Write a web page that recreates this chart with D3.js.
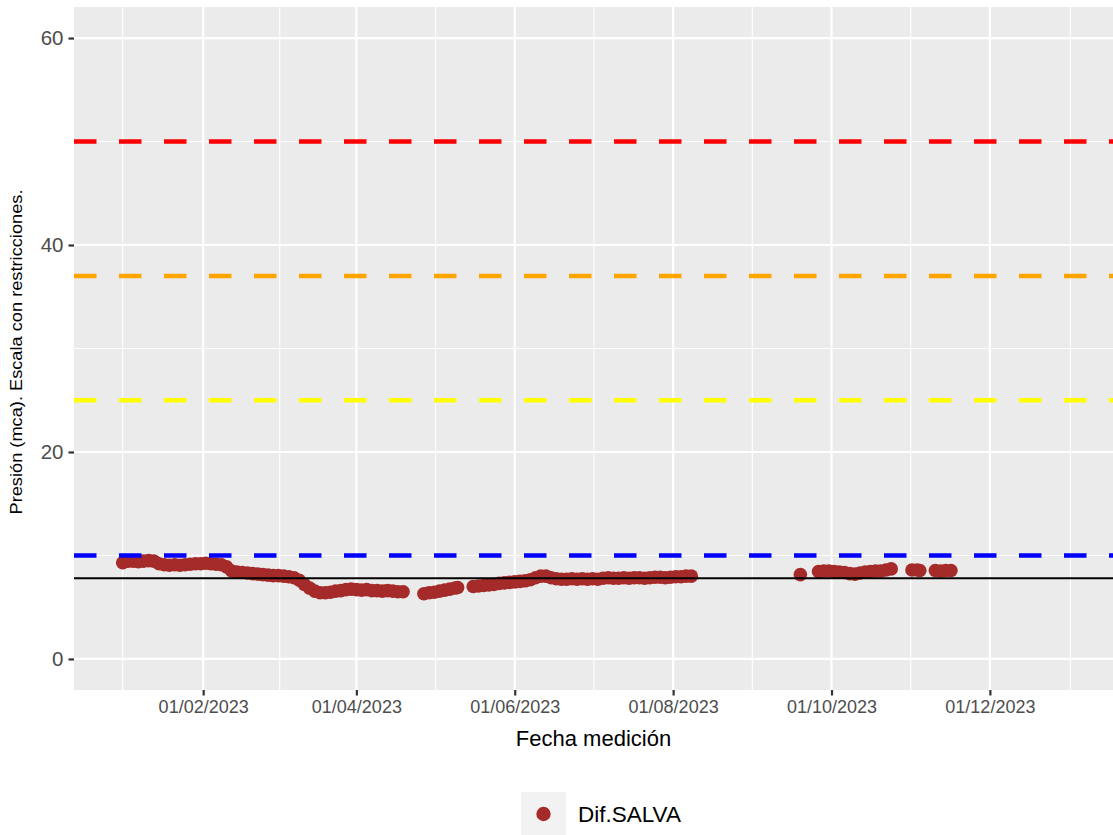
<!DOCTYPE html>
<html><head><meta charset="utf-8">
<script src="https://cdn.jsdelivr.net/npm/d3@7"></script>
<style>
body{margin:0;background:#fff;}
svg{display:block;font-family:"Liberation Sans",Arial,sans-serif;}
</style></head>
<body><svg id="c" width="1113" height="835"></svg>
<script>
// ---- data ----
const dates = [
 "2023-01-01","2023-01-03","2023-01-05","2023-01-07","2023-01-09","2023-01-11","2023-01-13","2023-01-15","2023-01-17","2023-01-19",
 "2023-01-21","2023-01-23","2023-01-25","2023-01-27","2023-01-29","2023-01-31","2023-02-02","2023-02-04","2023-02-06","2023-02-08",
 "2023-02-10","2023-02-12","2023-02-14","2023-02-16","2023-02-18","2023-02-20","2023-02-22","2023-02-24","2023-02-26","2023-02-28",
 "2023-03-02","2023-03-04","2023-03-06","2023-03-08","2023-03-10","2023-03-12","2023-03-14","2023-03-16","2023-03-18","2023-03-20",
 "2023-03-22","2023-03-24","2023-03-26","2023-03-28","2023-03-30","2023-04-01","2023-04-03","2023-04-05","2023-04-07","2023-04-09",
 "2023-04-11","2023-04-13","2023-04-15","2023-04-17","2023-04-19",
 "2023-04-27","2023-04-29","2023-05-01","2023-05-03","2023-05-05","2023-05-07","2023-05-09","2023-05-10",
 "2023-05-16","2023-05-18","2023-05-20","2023-05-22","2023-05-24","2023-05-26","2023-05-28","2023-05-30","2023-06-01","2023-06-03",
 "2023-06-05","2023-06-07","2023-06-09","2023-06-11","2023-06-13","2023-06-15","2023-06-17","2023-06-19","2023-06-21","2023-06-23",
 "2023-06-25","2023-06-27","2023-06-29","2023-07-01","2023-07-03","2023-07-05","2023-07-07","2023-07-09","2023-07-11","2023-07-13",
 "2023-07-15","2023-07-17","2023-07-19","2023-07-21","2023-07-23","2023-07-25","2023-07-27","2023-07-29","2023-07-31","2023-08-02",
 "2023-08-04","2023-08-06","2023-08-08",
 "2023-09-19",
 "2023-09-26","2023-09-28","2023-09-30","2023-10-02","2023-10-04","2023-10-06","2023-10-08","2023-10-10","2023-10-12","2023-10-14",
 "2023-10-16","2023-10-18","2023-10-20","2023-10-22","2023-10-24",
 "2023-11-01","2023-11-03","2023-11-04",
 "2023-11-10","2023-11-12","2023-11-14","2023-11-16"
];
const values = [
 9.3,9.45,9.45,9.4,9.45,9.5,9.45,9.2,9.1,9.05,
 9.1,9.05,9.1,9.15,9.2,9.2,9.25,9.2,9.15,9.1,
 8.9,8.5,8.4,8.35,8.3,8.25,8.2,8.15,8.1,8.05,
 8.05,8.0,7.95,7.85,7.6,7.2,6.85,6.55,6.4,6.4,
 6.45,6.55,6.6,6.7,6.75,6.7,6.65,6.7,6.6,6.6,
 6.55,6.6,6.55,6.5,6.5,
 6.3,6.4,6.45,6.55,6.65,6.75,6.85,6.9,
 7.0,7.05,7.1,7.15,7.2,7.3,7.35,7.4,7.45,7.5,
 7.55,7.65,7.85,8.0,8.0,7.85,7.75,7.7,7.7,7.75,
 7.7,7.75,7.7,7.75,7.7,7.8,7.85,7.8,7.8,7.85,
 7.8,7.85,7.85,7.8,7.85,7.9,7.9,7.85,7.9,7.95,
 7.95,8.0,8.0,
 8.15,
 8.45,8.5,8.5,8.45,8.4,8.35,8.25,8.2,8.3,8.4,
 8.45,8.5,8.5,8.6,8.7,
 8.6,8.6,8.55,
 8.55,8.5,8.55,8.55
];
const seriesName = "Dif.SALVA";
const hlineValues = [50, 37, 25, 10];
const hlineColors = ["#FF0000", "#FFA500", "#FFFF00", "#0000FF"];
const refLine = 7.8;
const yTicks = [0, 20, 40, 60];
const yMinor = [10, 30, 50];
const xTickLabels = ["01/02/2023","01/04/2023","01/06/2023","01/08/2023","01/10/2023","01/12/2023"];
const xDomain = ["2022-12-13T06:00","2024-01-17T10:00"];
const yDomain = [-3, 63];
const xTitle = "Fecha medición";
const yTitle = "Presión (mca). Escala con restricciones.";

// ---- layout ----
const P = {left:74, right:1113, top:7, bottom:690};
const svg = d3.select("#c");
const parse = d3.timeParse("%Y-%m-%d");
const parseDT = d3.timeParse("%Y-%m-%dT%H:%M");
const fmt = d3.timeFormat("%d/%m/%Y");
const tickParse = d3.timeParse("%d/%m/%Y");

const x = d3.scaleTime().domain(xDomain.map(parseDT)).range([P.left, P.right]);
const y = d3.scaleLinear().domain(yDomain).range([P.bottom, P.top]);

const data = dates.map((d,i)=>({date:parse(d), value:values[i]}));
const xTicks = xTickLabels.map(tickParse);

// panel
svg.append("rect").attr("x",P.left).attr("y",P.top)
  .attr("width",P.right-P.left+5).attr("height",P.bottom-P.top).attr("fill","#EBEBEB");

const grid = svg.append("g");
const ext = [d3.timeMonth.offset(xTicks[0],-2), ...xTicks, d3.timeMonth.offset(xTicks[xTicks.length-1],2)];
const xMinor = [];
for(let i=0;i<ext.length-1;i++) xMinor.push(new Date((ext[i].getTime()+ext[i+1].getTime())/2));
grid.selectAll(".xm").data(xMinor).join("line")
  .attr("x1",d=>x(d)).attr("x2",d=>x(d)).attr("y1",P.top).attr("y2",P.bottom)
  .attr("stroke","#fff").attr("stroke-width",1.1);
grid.selectAll(".ym").data(yMinor).join("line")
  .attr("x1",P.left).attr("x2",P.right+5).attr("y1",d=>y(d)).attr("y2",d=>y(d))
  .attr("stroke","#fff").attr("stroke-width",1.1);
grid.selectAll(".xM").data(xTicks).join("line")
  .attr("x1",d=>x(d)).attr("x2",d=>x(d)).attr("y1",P.top).attr("y2",P.bottom)
  .attr("stroke","#fff").attr("stroke-width",2.2);
grid.selectAll(".yM").data(yTicks).join("line")
  .attr("x1",P.left).attr("x2",P.right+5).attr("y1",d=>y(d)).attr("y2",d=>y(d))
  .attr("stroke","#fff").attr("stroke-width",2.2);

// points
svg.append("g").selectAll("circle").data(data).join("circle")
  .attr("cx",d=>x(d.date)).attr("cy",d=>y(d.value)).attr("r",6.8)
  .attr("fill","#A52A2A");

// horizontal dashed lines
svg.append("g").selectAll("line").data(hlineValues).join("line")
  .attr("x1",P.left).attr("x2",P.right+5).attr("y1",d=>y(d)).attr("y2",d=>y(d))
  .attr("stroke",(d,i)=>hlineColors[i]).attr("stroke-width",4.5)
  .attr("stroke-dasharray","22.5 22.5");
svg.append("line").attr("x1",P.left).attr("x2",P.right+5)
  .attr("y1",y(refLine)).attr("y2",y(refLine))
  .attr("stroke","#000").attr("stroke-width",2.2);

// axes
const yAxis = svg.append("g").attr("transform",`translate(${P.left},0)`)
  .call(d3.axisLeft(y).tickValues(yTicks).tickSize(5.5).tickPadding(5).tickFormat(d3.format("d")));
const xAxis = svg.append("g").attr("transform",`translate(0,${P.bottom})`)
  .call(d3.axisBottom(x).tickValues(xTicks).tickSize(5.5).tickPadding(5).tickFormat(fmt));
[yAxis,xAxis].forEach(a=>{
  a.select(".domain").remove();
  a.selectAll(".tick line").attr("stroke","#333333").attr("stroke-width",2.2);
  a.selectAll(".tick text").attr("fill","#4D4D4D").attr("font-family","Liberation Sans, Arial, sans-serif");
});
yAxis.selectAll(".tick text").attr("font-size",20.5);
xAxis.selectAll(".tick text").attr("font-size",18);

// titles
svg.append("text").attr("x",(P.left+P.right)/2).attr("y",746).attr("text-anchor","middle")
  .attr("font-size",22).attr("fill","#000").text(xTitle);
svg.append("text").attr("transform",`translate(22,352) rotate(-90)`)
  .attr("text-anchor","middle").attr("font-size",17).attr("textLength",325)
  .attr("lengthAdjust","spacingAndGlyphs").attr("fill","#000").text(yTitle);

// legend
const lg = svg.append("g");
lg.append("rect").attr("x",521).attr("y",792).attr("width",45).attr("height",45).attr("fill","#F2F2F2");
lg.append("circle").attr("cx",543.5).attr("cy",814).attr("r",7.2).attr("fill","#A52A2A");
lg.append("text").attr("x",578).attr("y",822).attr("font-size",22.5).attr("fill","#000").text(seriesName);
</script></body></html>
